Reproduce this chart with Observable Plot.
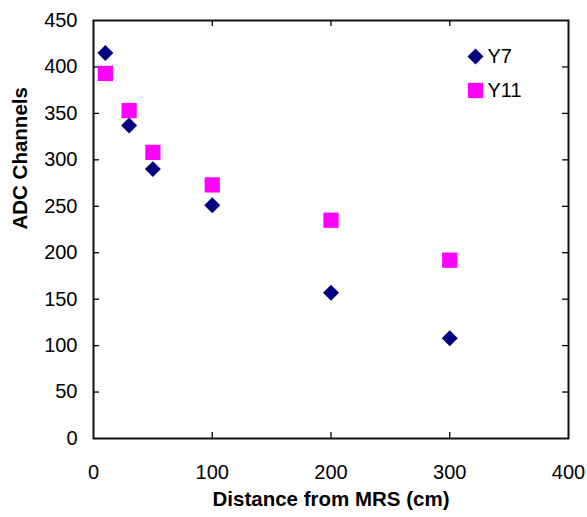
<!DOCTYPE html>
<html>
<head>
<meta charset="utf-8">
<script src="https://cdn.jsdelivr.net/npm/d3@7"></script>
<script src="https://cdn.jsdelivr.net/npm/@observablehq/plot@0.6"></script>
<style>
  html, body { margin: 0; padding: 0; background: #fff; }
  #chart svg { display: block; }
</style>
</head>
<body>
<div id="chart"></div>
<script>
const distances = [10, 30, 50, 100, 200, 300];
const y7 = [415, 337, 290, 251, 157, 108];
const y11 = [393, 353, 308, 273, 235, 192];
const seriesNames = ["Y7", "Y11"];
const xTicks = [0, 100, 200, 300, 400];
const yTicks = [0, 50, 100, 150, 200, 250, 300, 350, 400, 450];

const data7 = distances.map((d, i) => ({x: d, y: y7[i]}));
const data11 = distances.map((d, i) => ({x: d, y: y11[i]}));

const W = 587, H = 517;
const mL = 93, mR = 19, mT = 20, mB = 79;
const iw = W - mL - mR, ih = H - mT - mB;
const tick = 6;
const font = "Liberation Sans, Arial, sans-serif";

const chart = Plot.plot({
  width: W,
  height: H,
  marginLeft: mL,
  marginRight: mR,
  marginTop: mT,
  marginBottom: mB,
  style: {fontFamily: font, fontSize: "20px", color: "#000", background: "#fff"},
  x: {domain: [0, 400], ticks: xTicks},
  y: {domain: [0, 450], ticks: yTicks},
  marks: [
    Plot.axisX(xTicks, {tickSize: 0, tickPadding: 26, label: null, fontSize: 20}),
    Plot.axisY(yTicks, {tickSize: 0, tickPadding: 16, label: null, fontSize: 20}),
    // inward ticks on all four sides
    Plot.tickY(yTicks.slice(1, -1), {y: d => d, stroke: "#000", strokeWidth: 1.3, insetRight: iw - tick}),
    Plot.tickY(yTicks.slice(1, -1), {y: d => d, stroke: "#000", strokeWidth: 1.3, insetLeft: iw - tick}),
    Plot.tickX(xTicks.slice(1, -1), {x: d => d, stroke: "#000", strokeWidth: 1.3, insetTop: ih - tick}),
    Plot.tickX(xTicks.slice(1, -1), {x: d => d, stroke: "#000", strokeWidth: 1.3, insetBottom: ih - tick}),
    Plot.frame({stroke: "#111", strokeWidth: 2}),
    Plot.dot(data7, {x: "x", y: "y", symbol: "diamond2", r: 7.2, fill: "#000080", stroke: "none"}),
    Plot.dot(data11, {x: "x", y: "y", symbol: "square", r: 8.6, fill: "#FF00FF", stroke: "none"}),
    // legend inside plot
    Plot.dot([seriesNames[0]], {frameAnchor: "top-right", dx: -93, dy: 36, symbol: "diamond2", r: 7.2, fill: "#000080", stroke: "none"}),
    Plot.dot([seriesNames[1]], {frameAnchor: "top-right", dx: -93, dy: 70, symbol: "square", r: 8.6, fill: "#FF00FF", stroke: "none"}),
    Plot.text([seriesNames[0]], {text: d => d, frameAnchor: "top-right", dx: -81, dy: 36, textAnchor: "start", lineAnchor: "middle", fontSize: 20, fill: "#000"}),
    Plot.text([seriesNames[1]], {text: d => d, frameAnchor: "top-right", dx: -81, dy: 70, textAnchor: "start", lineAnchor: "middle", fontSize: 20, fill: "#000"}),
    // axis titles
    Plot.text(["ADC Channels"], {text: d => d, frameAnchor: "left", dx: -73.5, rotate: -90, fontWeight: "bold", fontSize: 20.5, fill: "#000"}),
    Plot.text(["Distance from MRS (cm)"], {text: d => d, frameAnchor: "bottom", dy: 67, fontWeight: "bold", fontSize: 20.5, fill: "#000"})
  ]
});
document.getElementById("chart").append(chart);
</script>
</body>
</html>
